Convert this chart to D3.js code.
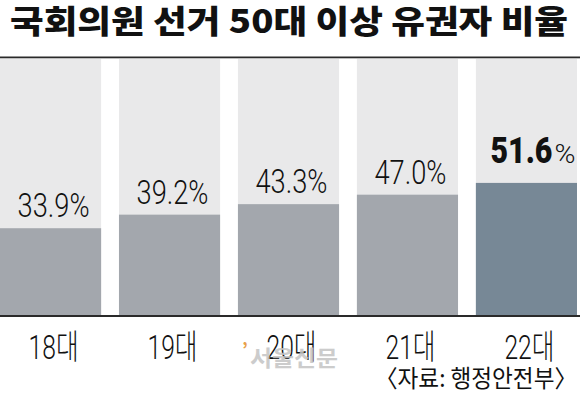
<!DOCTYPE html>
<html>
<head>
<meta charset="utf-8">
<script src="https://cdn.jsdelivr.net/npm/d3@7"></script>
<style>
  body { margin: 0; background: #fff; }
  svg { display: block; }
</style>
</head>
<body>
<script>
// data
const categories = ["18대", "19대", "20대", "21대", "22대"];
const values = [33.9, 39.2, 43.3, 47.0, 51.6];
const valueLabels = ["33.9", "39.2", "43.3", "47.0", "51.6"];
const maxValue = 100;

const width = 580, height = 397;
const svg = d3.select("body").append("svg")
  .attr("width", width)
  .attr("height", height);

const x = d3.scaleBand().domain(categories).range([0, 577]).paddingInner(0.15);
const y = d3.scaleLinear().domain([0, maxValue]).range([315, 59]);

const kor = "'Noto Sans CJK KR', 'Noto Sans', sans-serif";
const num = "Roboto, 'Liberation Sans', sans-serif";

// title
svg.append("text")
  .attr("x", 10)
  .attr("y", 33)
  .attr("textLength", 558)
  .attr("lengthAdjust", "spacingAndGlyphs")
  .style("font-family", kor)
  .style("font-weight", 900)
  .style("font-size", "32px")
  .style("fill", "#111")
  .text("국회의원 선거 50대 이상 유권자 비율");

// top rule
svg.append("rect")
  .attr("x", 0).attr("y", 56.5)
  .attr("width", width).attr("height", 1.8)
  .attr("fill", "#2a2a2a");

// background (100%) bars
svg.selectAll(".bg")
  .data(categories)
  .enter().append("rect")
  .attr("class", "bg")
  .attr("x", d => x(d))
  .attr("y", y(maxValue))
  .attr("width", x.bandwidth())
  .attr("height", y(0) - y(maxValue))
  .attr("fill", "#e9e9ea");

// value bars
svg.selectAll(".bar")
  .data(values)
  .enter().append("rect")
  .attr("class", "bar")
  .attr("x", (d, i) => x(categories[i]))
  .attr("y", d => y(d))
  .attr("width", x.bandwidth())
  .attr("height", d => y(0) - y(d))
  .attr("fill", (d, i) => i === values.length - 1 ? "#778896" : "#a3a7ad");

// baseline
svg.append("rect")
  .attr("x", 0).attr("y", 315)
  .attr("width", width).attr("height", 2)
  .attr("fill", "#2a2a2a");

// value labels
values.forEach(function(v, i) {
  const cx = x(categories[i]) + x.bandwidth() / 2 + 3;
  if (i === values.length - 1) {
    // highlighted last value: heavy number + light %
    svg.append("text")
      .attr("x", cx - 39)
      .attr("y", y(v) - 20)
      .attr("textLength", 62)
      .attr("lengthAdjust", "spacingAndGlyphs")
      .style("font-family", "Roboto, 'Liberation Sans', Arial, sans-serif")
      .style("font-weight", 900)
      .style("font-size", "36px")
      .style("fill", "#111")
      .text(valueLabels[i]);
    svg.append("text")
      .attr("x", cx + 25)
      .attr("y", y(v) - 20)
      .attr("textLength", 21)
      .attr("lengthAdjust", "spacingAndGlyphs")
      .style("font-family", num)
      .style("font-weight", 300)
      .style("font-size", "25px")
      .style("fill", "#111")
      .text("%");
  } else {
    svg.append("text")
      .attr("x", cx - 36)
      .attr("y", y(v) - 11)
      .attr("textLength", 72)
      .attr("lengthAdjust", "spacingAndGlyphs")
      .style("font-family", num)
      .style("font-weight", 300)
      .style("font-size", "34px")
      .style("fill", "#111")
      .text(valueLabels[i] + "%");
  }
});

// category labels
svg.selectAll(".cat")
  .data(categories)
  .enter().append("text")
  .attr("class", "cat")
  .attr("x", d => x(d) + x.bandwidth() / 2 - 22)
  .attr("y", 359)
  .attr("textLength", 50)
  .attr("lengthAdjust", "spacingAndGlyphs")
  .style("font-family", "Roboto, 'Noto Sans CJK KR', sans-serif")
  .style("font-weight", 300)
  .style("font-size", "34px")
  .style("fill", "#111")
  .text(d => d);

// watermark
svg.append("text")
  .attr("x", 242)
  .attr("y", 356)
  .style("font-family", kor)
  .style("font-size", "18px")
  .style("font-weight", 700)
  .style("fill", "#e8a04a")
  .text("’");
svg.append("text")
  .attr("x", 250)
  .attr("y", 366)
  .attr("textLength", 88)
  .attr("lengthAdjust", "spacingAndGlyphs")
  .style("font-family", kor)
  .style("font-weight", 700)
  .style("font-size", "22px")
  .style("fill", "#c4c4c4")
  .style("opacity", 0.85)
  .text("서울신문");

// source
svg.append("text")
  .attr("x", 375)
  .attr("y", 387)
  .attr("textLength", 202)
  .attr("lengthAdjust", "spacingAndGlyphs")
  .style("font-family", kor)
  .style("font-weight", 400)
  .style("font-size", "24px")
  .style("fill", "#111")
  .text("〈자료: 행정안전부〉");
</script>
</body>
</html>
